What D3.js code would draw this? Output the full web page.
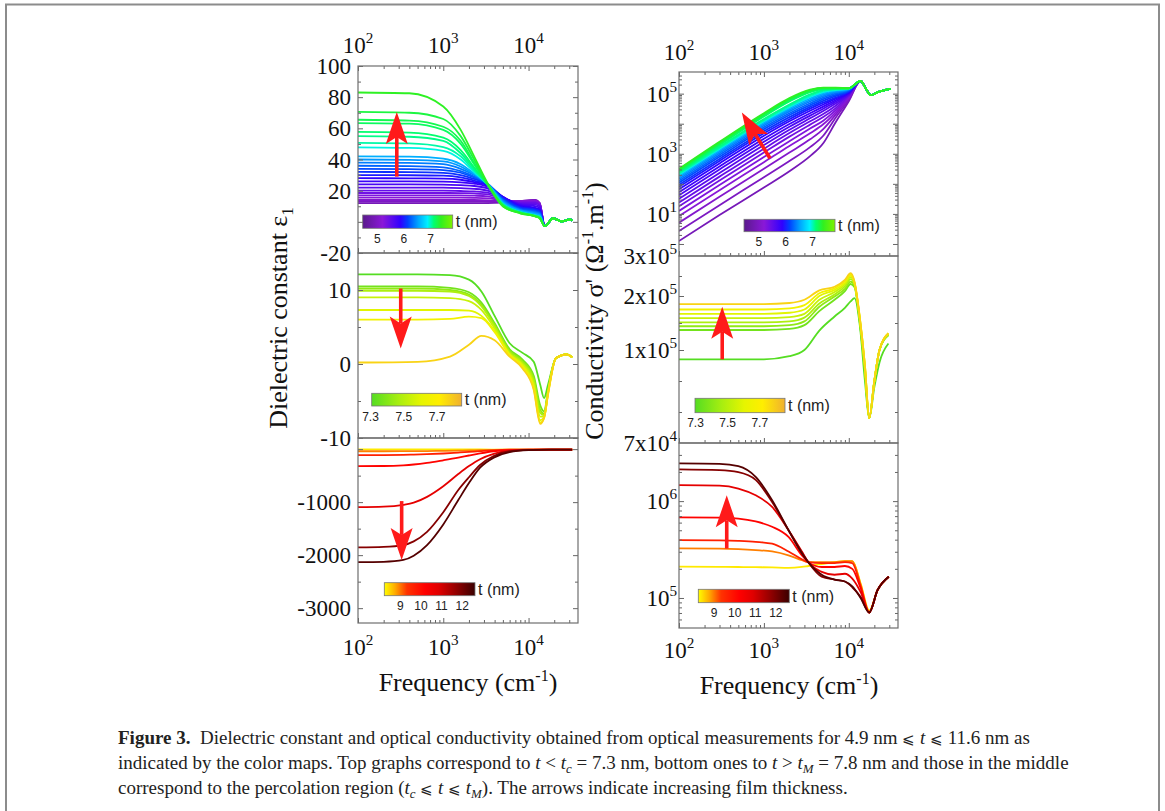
<!DOCTYPE html>
<html><head><meta charset="utf-8">
<script src="https://cdn.jsdelivr.net/npm/d3@7"></script>
<style>
body{margin:0;background:#fff;}
svg{display:block;}
text{white-space:pre;}
</style></head>
<body>
<svg id="chart" width="1165" height="811"></svg>
<script>
// ================= DATA =================
// Panel (a) top-left: dielectric constant eps1, t < 7.3 nm
const thickTop = [4.9,5.0,5.1,5.2,5.3,5.4,5.5,5.6,5.7,5.8,5.9,6.0,6.1,6.2,6.3,6.4,6.5,6.6,6.95,7.05,7.1,7.15,7.2,7.25,7.3,7.4];
const freqEpsTop = [100,400,1000,1600,2300,3300,5000,8000,12000,13500];
const epsTop = [
 [12,12,12,12,12,12,12.3,13.3,14,12],
 [13,13,13,13,13,12.9,12.8,13.3,14,12],
 [14,14,14,14,14,13.8,13.2,13.2,13.8,11.8],
 [15.5,15.5,15.5,15.5,15.4,15.1,13.8,13.2,13.5,11.5],
 [17,17,17,17,16.8,16.4,14,13,13,11.2],
 [18.5,18.5,18.5,18.4,18.2,17.6,14.5,12.5,12.5,10.8],
 [20,20,20,19.8,19.5,18.8,15,12,12,10.5],
 [22,22,21.9,21.6,21.2,20,15.5,11.5,11,9.8],
 [24,24,23.9,23.5,23,21.5,16,11,10,9],
 [26,26,25.8,25.3,24.5,22.5,16,10.5,9,8],
 [28,27.9,27.7,27,25.5,23.5,16,10,8.5,7.5],
 [30,29.9,29.6,28.5,26.5,24,15.5,9.5,8,7],
 [32,31.9,31.4,30,27.5,24.5,15,9,7.5,6.5],
 [34,33.8,33.2,31.5,28.5,24.5,14.5,8.5,7,6],
 [36,35.8,35,32.5,29,24.5,14,8,6.5,5.5],
 [38,37.8,37,34,30,24.5,13.5,7.6,6,5],
 [40,39.8,38.8,35.5,30.5,24.5,13,7.3,5.5,4.5],
 [42,41.8,40.5,37,31,24.5,12.5,7,5,4],
 [47.8,47.4,45.5,40,32,24,11.5,6.3,4.2,3.3],
 [50.7,50.3,48,42,33,24,11.5,6.2,4,3.1],
 [55,54.6,52,44,34,24,11,6,3.8,2.9],
 [57.7,57.3,54,46,35,24,11,6,3.8,2.8],
 [63.4,63,59,50,37,24,10.5,5.8,3.6,2.6],
 [65.5,65,61,52,38,24,10.5,5.8,3.6,2.5],
 [70.5,70,66,55,40,24,10,5.5,3.5,2.4],
 [83,82.5,74,59,42,25,10,5.5,3.5,2.3]
];
const freqEpsTopTail = [15500,19400,24600,30500,32500];
const epsTopTail = [-2.8,2.3,0.2,1.6,0.8];

// Panel (b) middle-left: eps1, 7.3 <= t <= 7.8 nm
const thickMid = [7.30,7.36,7.42,7.48,7.54,7.60,7.66,7.78];
const freqEpsMid = [100,500,1200,2000,2800,4000,6000,8500,11500,13700,15200,17000,21000,28000,32500];
const epsMid = [
 [12.1,12.1,12.0,11.4,9.8,6.5,2.8,1.5,0.3,-2.8,-4.6,-2.7,0.8,1.3,0.9],
 [10.5,10.5,10.3,9.7,8.3,5.5,2.0,0.6,-1.6,-5.6,-6.4,-3.4,0.8,1.3,0.9],
 [10.2,10.2,10.0,9.4,8.0,5.3,1.8,0.4,-1.9,-6.2,-6.7,-3.5,0.8,1.3,0.9],
 [9.9,9.9,9.8,9.2,7.8,5.1,1.6,0.2,-2.2,-6.6,-6.9,-3.6,0.8,1.3,0.9],
 [9.0,9.0,8.9,8.5,7.3,4.8,1.4,0.0,-2.6,-7.1,-7.1,-3.7,0.8,1.3,0.9],
 [7.3,7.3,7.3,7.2,6.5,4.5,1.3,-0.2,-3.0,-7.6,-7.2,-3.8,0.8,1.3,0.9],
 [6.0,6.0,6.1,6.4,6.2,4.3,1.2,-0.4,-3.3,-7.9,-7.3,-3.9,0.8,1.3,0.9],
 [0.2,0.3,1.0,2.6,3.8,3.2,1.0,-0.6,-3.5,-8.1,-7.3,-4.0,0.8,1.3,0.9]
];

// Panel (c) bottom-left: eps1, t > 7.8 nm
const thickBot = [8.4,9.0,9.7,10.2,10.8,11.9,12.4];
const freqEpsBot = [100,200,340,450,645,1000,1500,2000,2700,3900,6000,10000,20000,32500];
const epsBot = [
 [-5,-5,-5,-5,-5,-6,-6,-7,-7,-8,-8,-8,-8,-8],
 [-40,-40,-39,-38,-36,-33,-29,-25,-20,-15,-11,-9,-8,-8],
 [-113,-112,-108,-104,-96,-82,-65,-52,-38,-22,-12,-9,-8,-8],
 [-320,-318,-305,-290,-260,-210,-160,-120,-80,-40,-18,-10,-9,-8],
 [-1094,-1085,-1050,-1010,-900,-700,-470,-320,-190,-90,-30,-15,-10,-8],
 [-1855,-1845,-1810,-1740,-1560,-1190,-770,-530,-300,-130,-40,-15,-10,-8],
 [-2132,-2125,-2090,-2010,-1810,-1420,-960,-640,-350,-160,-55,-20,-10,-8]
];

// Panel (d) top-right: log10 of conductivity sigma' (Ohm^-1 m^-1), t < 7.3 nm
const freqSigTop = [100,300,1000,2000,3500,5000,7000,10000];
const sigTopLog10 = [
 [0.10,0.96,1.88,2.42,2.92,3.35,4.05,4.75],
 [0.43,1.29,2.22,2.76,3.22,3.60,4.20,4.80],
 [0.71,1.57,2.50,3.04,3.48,3.82,4.30,4.85],
 [0.93,1.79,2.72,3.26,3.68,3.98,4.38,4.88],
 [1.10,1.96,2.89,3.42,3.84,4.10,4.45,4.90],
 [1.25,2.11,3.04,3.57,3.97,4.22,4.52,4.93],
 [1.38,2.24,3.17,3.69,4.08,4.32,4.60,4.96],
 [1.50,2.36,3.29,3.80,4.18,4.42,4.67,4.98],
 [1.62,2.48,3.40,3.90,4.27,4.50,4.73,5.00],
 [1.72,2.58,3.50,3.99,4.35,4.57,4.78,5.02],
 [1.82,2.68,3.60,4.08,4.43,4.64,4.83,5.04],
 [1.90,2.76,3.68,4.15,4.50,4.70,4.87,5.06],
 [1.97,2.83,3.75,4.22,4.56,4.76,4.92,5.08],
 [2.04,2.90,3.82,4.29,4.62,4.82,4.96,5.10],
 [2.10,2.96,3.88,4.35,4.68,4.87,5.00,5.12],
 [2.16,3.02,3.94,4.41,4.74,4.92,5.04,5.14],
 [2.21,3.07,3.99,4.46,4.79,4.97,5.07,5.15],
 [2.26,3.12,4.04,4.51,4.84,5.01,5.10,5.16],
 [2.30,3.16,4.08,4.55,4.89,5.05,5.12,5.17],
 [2.34,3.20,4.12,4.60,4.94,5.09,5.14,5.17],
 [2.38,3.24,4.16,4.64,4.98,5.12,5.16,5.18],
 [2.41,3.29,4.24,4.74,5.05,5.15,5.17,5.18],
 [2.44,3.32,4.27,4.77,5.07,5.17,5.18,5.18],
 [2.46,3.35,4.30,4.80,5.09,5.18,5.18,5.18],
 [2.48,3.37,4.32,4.82,5.11,5.19,5.19,5.18],
 [2.50,3.40,4.35,4.85,5.13,5.20,5.20,5.18]
];
const freqSigTopTail = [13800,16000,18200,22000,31000];
const sigTopTailLog10 = [5.42,5.15,4.95,5.05,5.16];

// Panel (e) middle-right: sigma', 7.3 <= t <= 7.8 nm
const freqSigMid = [100,1000,2000,3000,4500,6800,9000,10500,11700,13500,15500,17400,20000,23000,29300];
const sigMid = [
 [0.97e5,0.97e5,0.98e5,1.0e5,1.36e5,1.62e5,1.78e5,1.9e5,1.96e5,1.45e5,0.9e5,0.78e5,0.88e5,0.96e5,1.12e5],
 [1.37e5,1.37e5,1.39e5,1.46e5,1.72e5,1.93e5,2.12e5,2.30e5,2.22e5,1.5e5,0.93e5,0.78e5,0.9e5,1.0e5,1.27e5],
 [1.44e5,1.44e5,1.46e5,1.53e5,1.80e5,1.99e5,2.18e5,2.36e5,2.26e5,1.52e5,0.93e5,0.78e5,0.9e5,1.0e5,1.28e5],
 [1.51e5,1.51e5,1.53e5,1.60e5,1.86e5,2.04e5,2.24e5,2.42e5,2.28e5,1.54e5,0.94e5,0.78e5,0.9e5,1.0e5,1.29e5],
 [1.59e5,1.59e5,1.61e5,1.67e5,1.93e5,2.10e5,2.29e5,2.47e5,2.30e5,1.56e5,0.94e5,0.78e5,0.9e5,1.0e5,1.30e5],
 [1.67e5,1.67e5,1.69e5,1.75e5,2.00e5,2.15e5,2.33e5,2.51e5,2.32e5,1.58e5,0.95e5,0.78e5,0.9e5,1.0e5,1.30e5],
 [1.75e5,1.75e5,1.77e5,1.83e5,2.07e5,2.19e5,2.37e5,2.54e5,2.33e5,1.59e5,0.95e5,0.78e5,0.9e5,1.0e5,1.31e5],
 [1.85e5,1.85e5,1.87e5,1.93e5,2.14e5,2.23e5,2.40e5,2.57e5,2.35e5,1.60e5,0.95e5,0.78e5,0.9e5,1.0e5,1.31e5]
];

// Panel (f) bottom-right: log10 of sigma', t > 7.8 nm
const freqSigBot = [100,300,500,800,1250,1950,2800,3330,4800,6800,9000,11000,13800,17400,21800,29600];
const sigBotLog10 = [
 [5.323,5.322,5.32,5.318,5.315,5.31,5.32,5.33,5.35,5.37,5.38,5.38,5.15,4.87,5.08,5.22],
 [5.512,5.51,5.505,5.495,5.48,5.44,5.39,5.37,5.37,5.37,5.38,5.38,5.14,4.86,5.08,5.22],
 [5.598,5.595,5.59,5.58,5.56,5.48,5.40,5.37,5.36,5.36,5.37,5.36,5.12,4.85,5.08,5.22],
 [5.832,5.83,5.82,5.79,5.735,5.63,5.44,5.37,5.32,5.32,5.33,5.30,5.10,4.85,5.08,5.22],
 [6.165,6.16,6.13,6.06,5.94,5.70,5.48,5.37,5.27,5.24,5.25,5.20,5.06,4.85,5.08,5.22],
 [6.327,6.32,6.30,6.22,5.99,5.70,5.47,5.37,5.22,5.19,5.17,5.11,5.01,4.85,5.08,5.22],
 [6.39,6.385,6.36,6.25,6.01,5.70,5.46,5.37,5.24,5.19,5.17,5.12,5.00,4.85,5.08,5.22]
];

// Axis tick labels
const xTickLabels = [[100,'2'],[1000,'3'],[10000,'4']];
const yTicksA = [100,80,60,40,20,-20];
const yTicksB = [10,0,-10];
const yTicksC = [-1000,-2000,-3000];
const yTicksD = [[1e5,'10','5'],[1e3,'10','3'],[1e1,'10','1']];
const yTicksE = [[3e5,'3x10','5'],[2e5,'2x10','5'],[1e5,'1x10','5'],[7e4,'7x10','4']];
const yTicksF = [[1e6,'10','6'],[1e5,'10','5']];
const cbTicksTop = [5,6,7];
const cbTicksMid = [7.3,7.5,7.7];
const cbTicksBot = [9,10,11,12];

// ================= DRAWING =================
const svg = d3.select('#chart');
const serif = "'Liberation Serif','Times New Roman',serif";
const sans = "'Liberation Sans',Arial,sans-serif";

svg.append('rect').attr('x',6).attr('y',4.5).attr('width',1153).attr('height',900)
  .attr('fill','none').attr('stroke','#8c8c8c').attr('stroke-width',2);

const xDom = [100, 38000];
const xL = d3.scaleLog().domain(xDom).range([358,578]);
const xR = d3.scaleLog().domain(xDom).range([679,898]);
const yA = d3.scaleLinear().domain([-20,100]).range([253,66]);
const yB = d3.scaleLinear().domain([-10,15]).range([438,253]);
const yC = d3.scaleLinear().domain([-3280,210]).range([623,438]);
const yD = d3.scaleLog().domain([Math.pow(10,-0.4),Math.pow(10,5.72)]).range([256,72]);
const yE = d3.scaleLinear().domain([7e4,1e5,2e5,3e5]).range([443,350,296,256]);
const yF = d3.scaleLog().domain([Math.pow(10,4.69),Math.pow(10,6.6)]).range([628,443]);

function cmap(stops){
  return d3.scaleLinear().domain(stops.map(s=>s[0])).range(stops.map(s=>s[1])).interpolate(d3.interpolateRgb).clamp(true);
}
const coolStops = [[0,'#5a1a8c'],[0.22,'#8a18d8'],[0.42,'#3000ff'],[0.5,'#0040ff'],[0.62,'#00a8ff'],[0.72,'#00f0ff'],[0.79,'#00ff70'],[0.87,'#30f020'],[1,'#80f000']];
const midStops = [[0,'#55dd22'],[0.3,'#a8ee10'],[0.55,'#e6f500'],[0.75,'#ffee00'],[1,'#f0b030']];
const hotStops = [[0,'#ffff00'],[0.12,'#ffaa00'],[0.25,'#ff3300'],[0.45,'#ff0000'],[0.6,'#e00000'],[0.8,'#900000'],[1,'#3a0000']];
const domTop=[4.47,7.85], domMid=[7.3,7.86], domBot=[8.26,12.68];
const cTop = cmap(coolStops), cMid = cmap(midStops), cBot = cmap(hotStops);
const colorOf = (c,dom)=>t=>c((t-dom[0])/(dom[1]-dom[0]));

const defs = svg.append('defs');
let clipN = 0;
function panel(xs, ys, top, bottom){
  const x0 = xs.range()[0], x1 = xs.range()[1];
  const id = 'clip'+(clipN++);
  defs.append('clipPath').attr('id',id).append('rect').attr('x',x0).attr('y',top).attr('width',x1-x0).attr('height',bottom-top);
  const g = svg.append('g');
  const plot = g.append('g').attr('clip-path',`url(#${id})`);
  return {g, plot, x0, x1, top, bottom};
}
function drawCurves(p, xs, ys, freqs, series, colors, tf){
  const line = d3.line().x(d=>xs(d[0])).y(d=>ys(d[1])).curve(d3.curveMonotoneX);
  series.forEach((vals,i)=>{
    const pts = freqs.map((f,j)=>[f, tf ? tf(vals[j]) : vals[j]]);
    p.plot.append('path').attr('d',line(pts)).attr('fill','none')
      .attr('stroke',colors[i]).attr('stroke-width',1.8).attr('stroke-linejoin','round');
  });
}
function ticks(p, xs, ys, yMajor, yMinor, topTicks){
  const col = '#666';
  const add = (axis, tr)=>{
    const a = p.g.append('g').attr('transform',tr).call(axis);
    a.select('.domain').remove();
    a.selectAll('line').attr('stroke',col).attr('stroke-width',1);
    a.selectAll('text').remove();
  };
  const xMaj = [100,1000,10000];
  const xMin = [200,300,400,500,600,700,800,900,2000,3000,4000,5000,6000,7000,8000,9000,20000,30000];
  add(d3.axisBottom(xs).tickValues(xMaj).tickSizeInner(-5).tickSizeOuter(0), `translate(0,${p.bottom})`);
  add(d3.axisBottom(xs).tickValues(xMin).tickSizeInner(-3).tickSizeOuter(0), `translate(0,${p.bottom})`);
  if(topTicks){
    add(d3.axisTop(xs).tickValues(xMaj).tickSizeInner(-5).tickSizeOuter(0), `translate(0,${p.top})`);
    add(d3.axisTop(xs).tickValues(xMin).tickSizeInner(-3).tickSizeOuter(0), `translate(0,${p.top})`);
  }
  add(d3.axisLeft(ys).tickValues(yMajor).tickSizeInner(-5).tickSizeOuter(0), `translate(${p.x0},0)`);
  add(d3.axisRight(ys).tickValues(yMajor).tickSizeInner(-5).tickSizeOuter(0), `translate(${p.x1},0)`);
  if(yMinor && yMinor.length){
    add(d3.axisLeft(ys).tickValues(yMinor).tickSizeInner(-3).tickSizeOuter(0), `translate(${p.x0},0)`);
    add(d3.axisRight(ys).tickValues(yMinor).tickSizeInner(-3).tickSizeOuter(0), `translate(${p.x1},0)`);
  }
  p.g.append('rect').attr('x',p.x0).attr('y',p.top).attr('width',p.x1-p.x0).attr('height',p.bottom-p.top)
    .attr('fill','none').attr('stroke','#6e6e6e').attr('stroke-width',1.2);
}
function powLabel(x, y, base, exp, fs, anchor){
  const t = svg.append('text').attr('x',x).attr('y',y).attr('text-anchor',anchor)
    .attr('font-family',serif).attr('font-size',fs).attr('fill','#111');
  t.append('tspan').text(base);
  t.append('tspan').attr('dy',-fs*0.42).attr('font-size',fs*0.66).text(exp);
  return t;
}
function plainLabel(x, y, txt, fs, anchor){
  svg.append('text').attr('x',x).attr('y',y).attr('text-anchor',anchor)
    .attr('font-family',serif).attr('font-size',fs).attr('fill','#111').text(txt);
}
function colorbar(stops, x, y, w, h, dom, tickVals){
  const id = 'grad'+(clipN++);
  const lg = defs.append('linearGradient').attr('id',id);
  stops.forEach(s=>lg.append('stop').attr('offset',s[0]).attr('stop-color',s[1]));
  svg.append('rect').attr('x',x).attr('y',y).attr('width',w).attr('height',h)
    .attr('fill',`url(#${id})`).attr('stroke','#777').attr('stroke-width',0.8);
  const s = d3.scaleLinear().domain(dom).range([x,x+w]);
  const a = svg.append('g').attr('transform',`translate(0,${y+h})`)
    .call(d3.axisBottom(s).tickValues(tickVals).tickSize(0).tickPadding(6).tickFormat(d3.format('')));
  a.select('.domain').remove();
  a.selectAll('text').attr('font-family',sans).attr('font-size',12).attr('fill','#222');
  svg.append('text').attr('x',x+w+3).attr('y',y+h/2+5.5).attr('font-family',sans)
    .attr('font-size',16).attr('fill','#222').text('t (nm)');
}
function arrow(x1,y1,x2,y2){
  const dx=x2-x1, dy=y2-y1, len=Math.hypot(dx,dy), ux=dx/len, uy=dy/len, nx=-uy, ny=ux;
  const hl=32, hw=11, notch=7;
  const bx=x2-ux*hl, by=y2-uy*hl;
  const col='#ff1a1a';
  svg.append('line').attr('x1',x1).attr('y1',y1).attr('x2',bx+ux*notch).attr('y2',by+uy*notch)
    .attr('stroke',col).attr('stroke-width',3.6);
  const pts=[[x2,y2],[bx+nx*hw,by+ny*hw],[bx+ux*notch,by+uy*notch],[bx-nx*hw,by-ny*hw]];
  svg.append('polygon').attr('points',pts.map(p=>p.join(',')).join(' ')).attr('fill',col);
}

// ---- Panel A
const pA = panel(xL, yA, 66, 253);
drawCurves(pA, xL, yA, freqEpsTop.concat(freqEpsTopTail), epsTop.map(r=>r.concat(epsTopTail)), thickTop.map(colorOf(cTop,domTop)));
ticks(pA, xL, yA, [100,80,60,40,20,0,-20], [90,70,50,30,10,-10], true);
// ---- Panel B
const pB = panel(xL, yB, 253, 438);
drawCurves(pB, xL, yB, freqEpsMid, epsMid, thickMid.map(colorOf(cMid,domMid)));
ticks(pB, xL, yB, [10,0,-10], [5,-5], false);
// ---- Panel C
const pC = panel(xL, yC, 438, 623);
drawCurves(pC, xL, yC, freqEpsBot, epsBot, thickBot.map(colorOf(cBot,domBot)));
ticks(pC, xL, yC, [0,-1000,-2000,-3000], [-500,-1500,-2500], false);
// ---- Panel D
const pD = panel(xR, yD, 72, 256);
drawCurves(pD, xR, yD, freqSigTop.concat(freqSigTopTail), sigTopLog10.map(r=>r.concat(sigTopTailLog10)), thickTop.map(colorOf(cTop,domTop)), v=>Math.pow(10,v));
const dMinor=[]; [1,10,100,1000,10000,100000].forEach(d=>{for(let k=2;k<10;k++){ if(d*k<5e5) dMinor.push(d*k);} });
ticks(pD, xR, yD, [1,10,100,1000,10000,100000], dMinor, true);
// ---- Panel E
const pE = panel(xR, yE, 256, 443);
drawCurves(pE, xR, yE, freqSigMid, sigMid, thickMid.map(colorOf(cMid,domMid)));
ticks(pE, xR, yE, [1e5,2e5], [8e4,9e4,1.5e5,2.5e5], false);
// ---- Panel F
const pF = panel(xR, yF, 443, 628);
drawCurves(pF, xR, yF, freqSigBot, sigBotLog10, thickBot.map(colorOf(cBot,domBot)), v=>Math.pow(10,v));
ticks(pF, xR, yF, [1e5,1e6], [6e4,7e4,8e4,9e4,2e5,3e5,4e5,5e5,6e5,7e5,8e5,9e5,2e6,3e6], false);

// ---- Tick labels
const FS = 23;
yTicksA.forEach(v=>plainLabel(351, yA(v)+8, String(v), FS, 'end'));
yTicksB.forEach(v=>plainLabel(351, yB(v)+8, String(v), FS, 'end'));
yTicksC.forEach(v=>plainLabel(351, yC(v)+8, String(v), FS, 'end'));
yTicksD.forEach(d=>powLabel(677, yD(d[0])+8, d[1], d[2], FS, 'end'));
yTicksE.forEach(d=>powLabel(677, yE(d[0])+8, d[1], d[2], FS, 'end'));
yTicksF.forEach(d=>powLabel(677, yF(d[0])+8, d[1], d[2], FS, 'end'));
xTickLabels.forEach(d=>{
  powLabel(xL(d[0]), 53, '10', d[1], FS, 'middle');
  powLabel(xR(d[0]), 60, '10', d[1], FS, 'middle');
  powLabel(xL(d[0]), 655, '10', d[1], FS, 'middle');
  powLabel(xR(d[0]), 658, '10', d[1], FS, 'middle');
});

// ---- Axis titles
const t1 = svg.append('text').attr('transform','translate(287,318) rotate(-90)').attr('text-anchor','middle')
  .attr('font-family',serif).attr('font-size',26).attr('fill','#111');
t1.append('tspan').text('Dielectric constant ε');
t1.append('tspan').attr('dy',6).attr('font-size',17).text('1');
const t2 = svg.append('text').attr('transform','translate(603,311) rotate(-90)').attr('text-anchor','middle')
  .attr('font-family',serif).attr('font-size',26).attr('fill','#111');
t2.append('tspan').text("Conductivity σ' (Ω");
t2.append('tspan').attr('dy',-10).attr('font-size',16).text('-1');
t2.append('tspan').attr('dy',10).text('.m');
t2.append('tspan').attr('dy',-10).attr('font-size',16).text('-1');
t2.append('tspan').attr('dy',10).text(')');
[[468,691],[789,694]].forEach(p=>{
  const t = svg.append('text').attr('x',p[0]).attr('y',p[1]).attr('text-anchor','middle')
    .attr('font-family',serif).attr('font-size',26).attr('fill','#111');
  t.append('tspan').text('Frequency (cm');
  t.append('tspan').attr('dy',-10).attr('font-size',16).text('-1');
  t.append('tspan').attr('dy',10).text(')');
});

// ---- Colorbars
colorbar(coolStops, 362.7, 215, 90, 13.3, domTop, cbTicksTop);
colorbar(midStops, 371.7, 393.3, 90, 12.7, [7.31,7.85], cbTicksMid);
colorbar(hotStops, 384.3, 582.7, 90.7, 13, [8.24,12.65], cbTicksBot);
colorbar(coolStops, 744, 219.3, 91, 12.4, domTop, cbTicksTop);
colorbar(midStops, 695, 398.3, 90, 14.4, domMid, cbTicksMid);
colorbar(hotStops, 698.3, 589.3, 91, 13.4, domBot, cbTicksBot);

// ---- Arrows (in data coordinates)
arrow(xL(285), yA(29), xL(285), yA(70.5));
arrow(xL(317), yB(10.2), xL(317), yB(2.1));
arrow(xL(325), yC(-980), xL(325), yC(-2090));
arrow(xR(1180), yD(Math.pow(10,2.85)), xR(550), yD(Math.pow(10,4.37)));
arrow(xR(323), yE(9.7e4), xR(323), yE(1.8e5));
arrow(xR(365), yF(Math.pow(10,5.51)), xR(365), yF(Math.pow(10,6.06)));

// ---- Caption
const capFS = 19;
function capLine(y, parts){
  const t = svg.append('text').attr('x',118).attr('y',y).attr('font-family',serif).attr('font-size',capFS).attr('fill','#222');
  parts.forEach(p=>{
    const s = t.append('tspan').text(p.t);
    if(p.b) s.attr('font-weight','bold');
    if(p.i) s.attr('font-style','italic');
    if(p.sym) s.attr('font-size',capFS*0.8);
    if(p.sub){ s.attr('dy',4).attr('font-size',capFS*0.68).attr('font-style','italic'); }
    if(p.up) s.attr('dy',-4);
  });
}
capLine(744, [{t:'Figure 3.',b:1},{t:'  Dielectric constant and optical conductivity obtained from optical measurements for 4.9 nm '},{t:'⩽',sym:1},{t:' '},{t:'t',i:1},{t:' '},{t:'⩽',sym:1},{t:' 11.6 nm as'}]);
capLine(769, [{t:'indicated by the color maps. Top graphs correspond to '},{t:'t',i:1},{t:' < '},{t:'t',i:1},{t:'c',sub:1},{t:' = 7.3 nm, bottom ones to ',up:1},{t:'t',i:1},{t:' > '},{t:'t',i:1},{t:'M',sub:1},{t:' = 7.8 nm and those in the middle',up:1}]);
capLine(794, [{t:'correspond to the percolation region ('},{t:'t',i:1},{t:'c',sub:1},{t:' ',up:1},{t:'⩽',sym:1},{t:' '},{t:'t',i:1},{t:' '},{t:'⩽',sym:1},{t:' '},{t:'t',i:1},{t:'M',sub:1},{t:'). The arrows indicate increasing film thickness.',up:1}]);
</script>
</body></html>
